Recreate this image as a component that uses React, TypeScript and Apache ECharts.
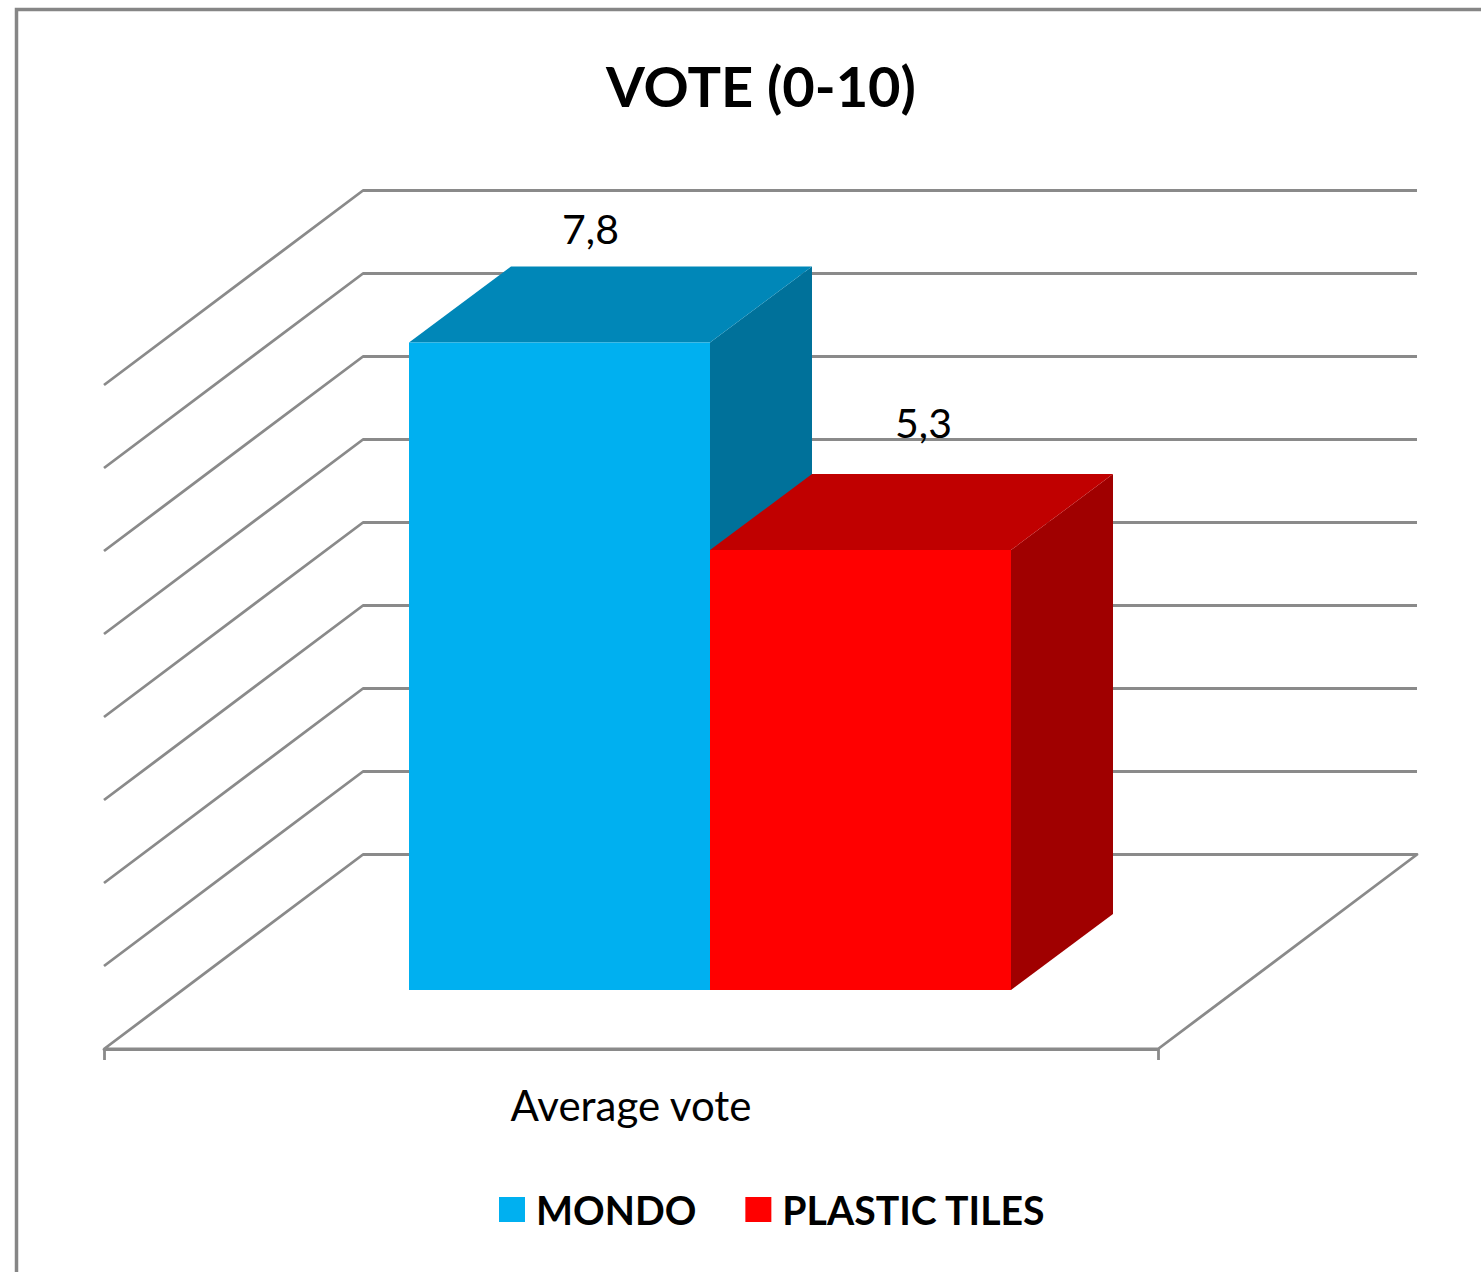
import React, { useEffect, useRef } from "react";
import * as echarts from "echarts";

const categories = ["Average vote"];
const seriesNames = ["MONDO", "PLASTIC TILES"];
const mondoValues = [7.8];
const plasticValues = [5.3];
const gridTicks = [0, 1, 2, 3, 4, 5, 6, 7, 8];

const WIDTH = 1481;
const HEIGHT = 1272;
const FONT = "Lato, 'Noto Sans', sans-serif";
const GRID = { left: 104, right: 323, top: 385, bottom: 223 };
const WALL_DX = 259;
const WALL_DY = -194.5;
const BAR_SHIFT_X = 79;
const BAR_SHIFT_Y = -59;
const BAR_DX = 102;
const BAR_DY = -76;
const BAR_WIDTH = 301;
const LINE = "#8a8a8a";

const wallItem = (params: any, api: any) => {
  const value = api.value(1);
  const band = api.size([1, 0])[0];
  const p = api.coord([0, value]);
  const x0 = p[0] - band / 2;
  const style = { stroke: LINE, lineWidth: 2.8, fill: "none", lineJoin: "round" };
  const pts = [
    [x0, p[1]],
    [x0 + WALL_DX, p[1] + WALL_DY],
    [x0 + band + WALL_DX, p[1] + WALL_DY],
  ];
  if (value === 0) pts.push([x0 + band, p[1]], [x0, p[1]]);
  return { type: "polyline", shape: { points: pts }, style };
};

const barItem =
  (slot: number, front: string, top: string, side: string, labelDx: number, labelDy: number) =>
  (params: any, api: any) => {
    const value = api.value(1);
    const center = api.coord([0, 0])[0];
    const y0 = api.coord([0, 0])[1] + BAR_SHIFT_Y;
    const y1 = api.coord([0, value])[1] + BAR_SHIFT_Y;
    const x0 = center + BAR_SHIFT_X + (slot - 1) * BAR_WIDTH;
    const x1 = x0 + BAR_WIDTH;
    const d = { dx: BAR_DX, dy: BAR_DY };
    return {
      type: "group",
      children: [
        {
          type: "polygon",
          shape: { points: [[x1, y1], [x1 + d.dx, y1 + d.dy], [x1 + d.dx, y0 + d.dy], [x1, y0]] },
          style: { fill: side },
        },
        {
          type: "polygon",
          shape: { points: [[x0, y1], [x0 + d.dx, y1 + d.dy], [x1 + d.dx, y1 + d.dy], [x1, y1]] },
          style: { fill: top },
        },
        { type: "rect", shape: { x: x0, y: y1, width: BAR_WIDTH, height: y0 - y1 }, style: { fill: front } },
        {
          type: "text",
          style: {
            x: (x0 + x1) / 2 + labelDx,
            y: y1 + labelDy,
            text: String(value).replace(".", ","),
            font: `41px ${FONT}`,
            fill: "#000",
            align: "center",
            verticalAlign: "middle",
          },
        },
      ],
    };
  };

export default function App() {
  const ref = useRef<HTMLDivElement>(null);
  useEffect(() => {
    document.body.style.margin = "0";
    const chart = echarts.init(ref.current!, null, { renderer: "svg" });
    chart.setOption({
      animation: false,
      backgroundColor: "#fff",
      title: {
        text: "VOTE (0-10)",
        left: 756,
        top: 52,
        textAlign: "center",
        textStyle: { fontFamily: FONT, fontWeight: "bold", fontSize: 56, color: "#000" },
      },
      legend: {
        data: seriesNames,
        left: 494,
        top: 1185,
        icon: "rect",
        itemWidth: 26,
        itemHeight: 25,
        itemGap: 49,
        textStyle: { fontFamily: FONT, fontWeight: "bold", fontSize: 39.2, color: "#000", padding: [0, 0, 4, 6] },
      },
      graphic: [
        {
          type: "polyline",
          silent: true,
          shape: { points: [[16.5, HEIGHT], [16.5, 9.5], [WIDTH, 9.5]] },
          style: { stroke: "#868686", lineWidth: 3.5, fill: "none" },
        },
      ],
      grid: { ...GRID },
      xAxis: {
        type: "category",
        data: categories,
        axisLine: { lineStyle: { color: LINE, width: 2.8 } },
        axisTick: { show: true, length: 11, lineStyle: { color: LINE, width: 2.8 } },
        axisLabel: { fontFamily: FONT, fontSize: 42, color: "#000", margin: 35 },
      },
      yAxis: {
        type: "value",
        min: 0,
        max: 8,
        interval: 1,
        show: false,
        splitLine: { show: false },
      },
      series: [
        {
          type: "custom",
          name: "wall",
          silent: true,
          clip: false,
          z: 1,
          data: gridTicks.map((t) => [0, t]),
          renderItem: wallItem,
        },
        {
          type: "custom",
          name: seriesNames[0],
          clip: false,
          z: 2,
          itemStyle: { color: "#00B0F0" },
          data: mondoValues.map((v, i) => [i, v]),
          renderItem: barItem(0, "#00B0F0", "#0087B8", "#00719A", 31, -114),
        },
        {
          type: "custom",
          name: seriesNames[1],
          clip: false,
          z: 3,
          itemStyle: { color: "#FF0000" },
          data: plasticValues.map((v, i) => [i, v]),
          renderItem: barItem(1, "#FF0000", "#C00000", "#A00000", 63, -128),
        },
      ],
    });
    return () => chart.dispose();
  }, []);
  return <div ref={ref} style={{ width: WIDTH, height: HEIGHT }} />;
}
